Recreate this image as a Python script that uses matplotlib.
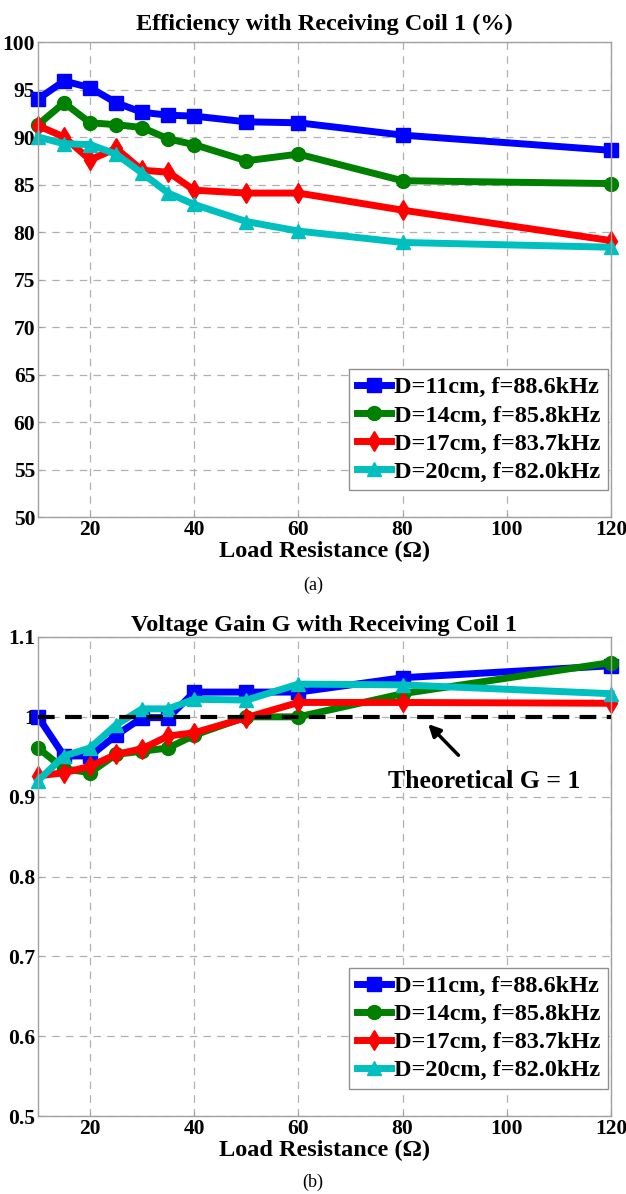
import matplotlib.pyplot as plt

# load resistance values (ohm)
load_r = [10, 15, 20, 25, 30, 35, 40, 50, 60, 80, 120]

labels = ['D=11cm, f=88.6kHz', 'D=14cm, f=85.8kHz',
          'D=17cm, f=83.7kHz', 'D=20cm, f=82.0kHz']

# efficiency (%) with receiving coil 1
eff_11 = [94.0, 95.9, 95.2, 93.6, 92.6, 92.3, 92.2, 91.6, 91.5, 90.2, 88.6]
eff_14 = [91.3, 93.6, 91.5, 91.3, 91.0, 89.8, 89.2, 87.5, 88.2, 85.4, 85.1]
eff_17 = [91.2, 90.0, 87.6, 88.8, 86.5, 86.3, 84.4, 84.1, 84.1, 82.3, 79.1]
eff_20 = [90.0, 89.3, 89.2, 88.2, 86.2, 84.1, 82.9, 81.1, 80.1, 78.9, 78.4]

# voltage gain G with receiving coil 1
gain_11 = [1.000, 0.951, 0.951, 0.977, 0.999, 0.999, 1.031, 1.031, 1.031, 1.049, 1.064]
gain_14 = [0.961, 0.935, 0.930, 0.953, 0.957, 0.961, 0.977, 1.000, 1.000, 1.029, 1.068]
gain_17 = [0.926, 0.930, 0.938, 0.953, 0.960, 0.976, 0.980, 0.999, 1.018, 1.018, 1.017]
gain_20 = [0.920, 0.951, 0.961, 0.990, 1.010, 1.010, 1.022, 1.021, 1.041, 1.040, 1.029]

colors = ['#0000ff', '#008000', '#ff0000', '#00bfbf']
markers = ['s', 'o', 'd', '^']

plt.rcParams['font.family'] = ['Liberation Serif', 'DejaVu Serif']
plt.rcParams['font.weight'] = 'bold'

fig = plt.figure(figsize=(6.26, 11.94), dpi=100)
ax1 = fig.add_axes([0.0607, 0.567, 0.9153, 0.3978])
ax2 = fig.add_axes([0.0607, 0.0653, 0.9153, 0.4012])


def style_axes(ax):
    ax.set_xlim(10, 120)
    ax.set_xticks([20, 40, 60, 80, 100, 120])
    ax.grid(True, linestyle=(0, (6, 5)), color='#b0b0b0', linewidth=0.9)
    ax.set_axisbelow(True)
    for sp in ax.spines.values():
        sp.set_color('#a0a0a0')
        sp.set_linewidth(1.0)
    ax.tick_params(direction='in', length=3, color='#a0a0a0', labelsize=15.5, pad=2)
    for t in ax.get_xticklabels() + ax.get_yticklabels():
        t.set_fontweight('bold')
    ax.set_xlabel('Load Resistance (\u03a9)', fontsize=17.5, fontweight='bold', labelpad=1)


def add_legend(ax):
    ax.legend(loc='lower right', bbox_to_anchor=(0.995, 0.057), fontsize=17.5,
              handlelength=1.4, handletextpad=0.15, borderpad=0.3, labelspacing=0.25,
              fancybox=False, framealpha=1, edgecolor='#909090', borderaxespad=0)


# (a) efficiency
for ys, c, m, lab in zip([eff_11, eff_14, eff_17, eff_20], colors, markers, labels):
    ax1.plot(load_r, ys, color=c, marker=m, markersize=10, linewidth=5,
             label=lab, clip_on=False)
ax1.set_ylim(50, 100)
ax1.set_yticks(range(50, 101, 5))
style_axes(ax1)
ax1.set_title('Efficiency with Receiving Coil 1 (%)', fontsize=17.5, fontweight='bold', pad=9)
add_legend(ax1)
fig.text(0.5, 0.510, '(a)', ha='center', va='center', fontsize=13, fontweight='normal')

# (b) voltage gain
for ys, c, m, lab in zip([gain_11, gain_14, gain_17, gain_20], colors, markers, labels):
    ax2.plot(load_r, ys, color=c, marker=m, markersize=10, linewidth=5,
             label=lab, clip_on=False)
ax2.plot([10, 120], [1, 1], color='black', linestyle=(0, (4, 2.5)), linewidth=3, zorder=3)
ax2.set_ylim(0.5, 1.1)
ax2.set_yticks([0.5, 0.6, 0.7, 0.8, 0.9, 1.0, 1.1])
ax2.set_yticklabels(['0.5', '0.6', '0.7', '0.8', '0.9', '1', '1.1'])
style_axes(ax2)
ax2.set_title('Voltage Gain G with Receiving Coil 1', fontsize=17.5, fontweight='bold', pad=4)
ax2.annotate('Theoretical G = 1', xy=(84.9, 0.991), xytext=(95.6, 0.919),
             ha='center', va='center', fontsize=18.5, fontweight='bold',
             arrowprops=dict(arrowstyle='-|>', color='black', linewidth=2.5,
                             mutation_scale=18, shrinkA=12, shrinkB=0))
add_legend(ax2)
fig.text(0.5, 0.01, '(b)', ha='center', va='center', fontsize=13, fontweight='normal')

fig.savefig('out.png', dpi=100)
